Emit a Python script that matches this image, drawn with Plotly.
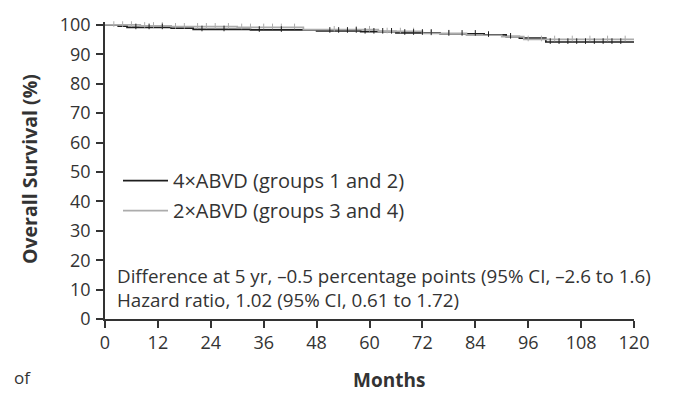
import plotly.graph_objects as go
import numpy as np

# ---- data ----
months_4x = [0, 3, 5, 15, 20, 33, 48, 58, 66, 76, 86, 91, 94, 100, 120]
surv_4x = [100, 99.6, 99.2, 98.9, 98.5, 98.3, 98.0, 97.7, 97.3, 97.0, 96.6, 96.0, 95.5, 94.2, 94.2]

months_2x = [0, 8, 15, 30, 45, 62, 72, 82, 90, 95, 120]
surv_2x = [100, 99.7, 99.4, 99.2, 98.4, 97.8, 97.1, 96.5, 96.0, 95.1, 95.1]

censor_4x = [7, 10, 13, 22, 27, 35, 40, 51, 53, 55, 57, 59, 61, 63, 65, 68, 70, 72, 74, 78, 81, 84, 87, 92,
             101, 103, 105, 107, 109, 111, 113, 115, 117]
censor_2x = [2, 4, 6, 9, 11, 13, 16, 18, 21, 23, 25, 28, 31, 33, 36, 38, 40, 43, 52, 57, 60, 64, 67, 70,
             74, 78, 96, 99, 102, 106, 110, 114, 118]

x_ticks = [0, 12, 24, 36, 48, 60, 72, 84, 96, 108, 120]
y_ticks = [0, 10, 20, 30, 40, 50, 60, 70, 80, 90, 100]

label_4x = "4×ABVD (groups 1 and 2)"
label_2x = "2×ABVD (groups 3 and 4)"
note_lines = ["Difference at 5 yr, \u20130.5 percentage points (95% CI, \u20132.6 to 1.6)",
              "Hazard ratio, 1.02 (95% CI, 0.61 to 1.72)"]

BLACK = "#1e1e1e"
GRAY = "#acacac"
TEXT = "#333333"
FONT = "Open Sans"

# plot-area geometry (pixels)
L, R, T, B = 105, 43, 12, 74
PW, PH = 677 - L - R, 393 - T - B


def px_x(px):
    return (px - L) / PW


def px_y(py):
    return (393 - B - py) / PH


def step_at(t, times, surv):
    idx = np.searchsorted(times, t, side="right") - 1
    return surv[idx]


fig = go.Figure()
fig.add_trace(go.Scatter(x=months_4x, y=surv_4x, mode="lines", line=dict(shape="hv", color=BLACK, width=1.7),
                         name=label_4x, legend="legend"))
fig.add_trace(go.Scatter(x=months_2x, y=surv_2x, mode="lines", line=dict(shape="hv", color=GRAY, width=1.7),
                         name=label_2x, legend="legend2"))
fig.add_trace(go.Scatter(x=censor_2x, y=[step_at(t, months_2x, surv_2x) + 0.3 for t in censor_2x], mode="markers",
                         marker=dict(symbol="line-ns", size=4, line=dict(color=GRAY, width=1)),
                         showlegend=False, cliponaxis=False, hoverinfo="skip"))
fig.add_trace(go.Scatter(x=censor_4x, y=[step_at(t, months_4x, surv_4x) + 0.3 for t in censor_4x], mode="markers",
                         marker=dict(symbol="line-ns", size=4, line=dict(color=BLACK, width=1)),
                         showlegend=False, cliponaxis=False, hoverinfo="skip"))

fig.add_annotation(x=px_x(115), y=px_y(287), xref="paper", yref="paper", text="<br>".join(note_lines),
                   showarrow=False, align="left", xanchor="left", yanchor="middle",
                   font=dict(family=FONT, size=18.8, color=TEXT))

# axis titles
fig.add_annotation(x=px_x(389), y=px_y(382), xref="paper", yref="paper", text="<b>Months</b>", showarrow=False,
                   xanchor="center", yanchor="middle", font=dict(family=FONT, size=19, color=TEXT))
fig.add_annotation(x=px_x(29), y=px_y(164), xref="paper", yref="paper", text="<b>Overall Survival (%)</b>",
                   showarrow=False, textangle=-90, xanchor="center", yanchor="middle",
                   font=dict(family=FONT, size=19.5, color=TEXT))

# clipped caption fragment at the bottom-left
fig.add_annotation(x=px_x(12), y=px_y(393), xref="paper", yref="paper", text="of", showarrow=False,
                   xanchor="left", yanchor="bottom", font=dict(family=FONT, size=17, color=TEXT))

axis_common = dict(showline=True, linecolor="#333333", linewidth=1.5, ticks="outside", ticklen=7,
                   tickwidth=1.5, tickcolor="#333333", showgrid=False, zeroline=False,
                   tickfont=dict(family=FONT, size=18, color=TEXT))

legend_common = dict(xanchor="left", yanchor="middle", bgcolor="rgba(0,0,0,0)",
                     font=dict(family=FONT, size=20, color=TEXT), itemwidth=45)

fig.update_layout(
    width=677, height=393,
    margin=dict(l=L, r=R, t=T, b=B),
    plot_bgcolor="white", paper_bgcolor="white",
    xaxis=dict(range=[0, 120], tickvals=x_ticks, ticktext=[str(v) for v in x_ticks], **axis_common),
    yaxis=dict(range=[0, 101], tickvals=y_ticks, ticktext=[str(v) for v in y_ticks], ticklabelstandoff=2,
               **axis_common),
    legend=dict(x=px_x(118), y=px_y(176), **legend_common),
    legend2=dict(x=px_x(118), y=px_y(207), **legend_common),
    showlegend=True,
)

fig.write_html("out.html")
